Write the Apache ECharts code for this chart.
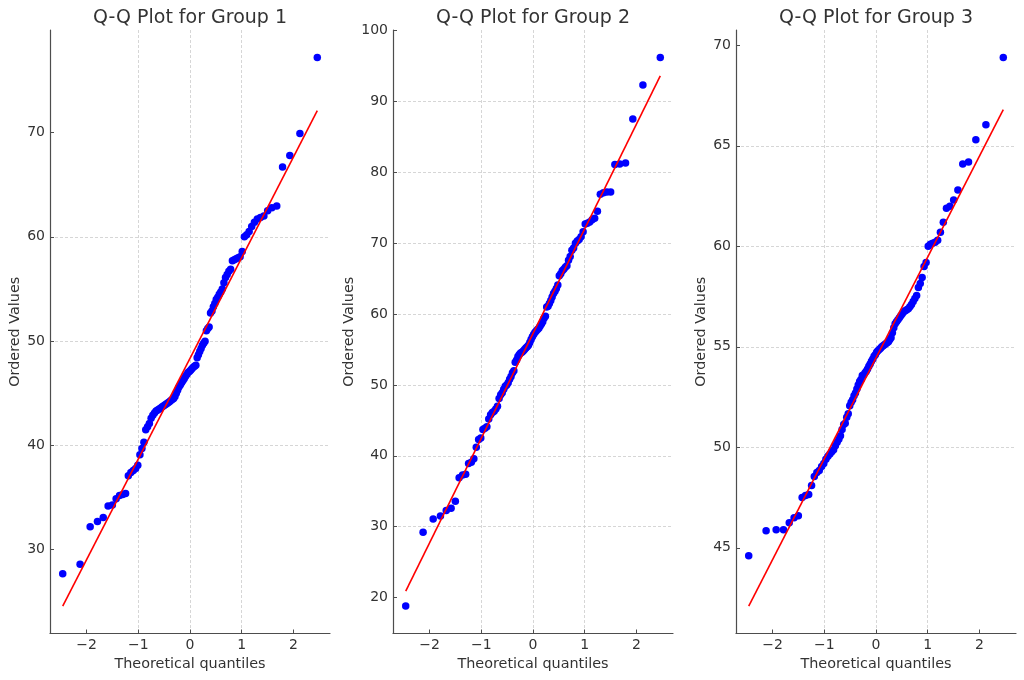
<!DOCTYPE html>
<html>
<head>
<meta charset="utf-8">
<script src="https://cdn.jsdelivr.net/npm/echarts@6/dist/echarts.min.js"></script>
<style>
html,body{margin:0;padding:0;background:#fff;}
#chart{width:1024px;height:680px;}
</style>
</head>
<body>
<div id="chart"></div>
<script>
// ---------- data ----------
const panelTitles = ['Q-Q Plot for Group 1', 'Q-Q Plot for Group 2', 'Q-Q Plot for Group 3'];
const xAxisName = 'Theoretical quantiles';
const yAxisName = 'Ordered Values';

// theoretical normal quantiles for n = 100 (order statistic medians)
const theoreticalQuantiles = [
  -2.462, -2.126, -1.931, -1.790, -1.678, -1.584, -1.502, -1.429, -1.363, -1.302,
  -1.246, -1.193, -1.144, -1.097, -1.052, -1.010, -0.969, -0.930, -0.892, -0.856,
  -0.820, -0.786, -0.752, -0.719, -0.687, -0.656, -0.625, -0.595, -0.566, -0.537,
  -0.508, -0.480, -0.452, -0.425, -0.397, -0.370, -0.344, -0.317, -0.291, -0.265,
  -0.240, -0.214, -0.188, -0.163, -0.138, -0.113, -0.088, -0.062, -0.037, -0.012,
   0.012,  0.037,  0.062,  0.088,  0.113,  0.138,  0.163,  0.188,  0.214,  0.240,
   0.265,  0.291,  0.317,  0.344,  0.370,  0.397,  0.425,  0.452,  0.480,  0.508,
   0.537,  0.566,  0.595,  0.625,  0.656,  0.687,  0.719,  0.752,  0.786,  0.820,
   0.856,  0.892,  0.930,  0.969,  1.010,  1.052,  1.097,  1.144,  1.193,  1.246,
   1.302,  1.363,  1.429,  1.502,  1.584,  1.678,  1.790,  1.931,  2.126,  2.462
];

const group1Values = [
  27.7, 28.6, 32.2, 32.7, 33.1, 34.2, 34.3, 34.9, 35.2, 35.3,
  35.4, 37.1, 37.4, 37.6, 37.8, 38.1, 39.1, 39.7, 40.3, 41.5,
  41.8, 42.1, 42.6, 42.9, 43.1, 43.3, 43.4, 43.5, 43.6, 43.7,
  43.8, 43.9, 44.0, 44.1, 44.2, 44.3, 44.4, 44.5, 44.7, 45.0,
  45.3, 45.6, 45.8, 46.0, 46.2, 46.4, 46.6, 46.8, 47.0, 47.1,
  47.2, 47.35, 47.5, 47.6, 47.7, 48.4, 48.7, 49.0, 49.3, 49.6,
  49.8, 50.0, 51.0, 51.2, 51.35, 52.7, 52.9, 53.3, 53.6, 54.0,
  54.2, 54.5, 54.7, 55.0, 55.6, 56.1, 56.4, 56.7, 56.9, 57.7,
  57.8, 57.9, 58.0, 58.1, 58.6, 60.0, 60.2, 60.5, 61.0, 61.4,
  61.7, 61.85, 62.0, 62.5, 62.8, 62.95, 66.7, 67.8, 69.9, 77.2
];
const group2Values = [
  18.8, 29.2, 31.1, 31.5, 32.3, 32.6, 33.6, 36.9, 37.3, 37.4,
  38.9, 39.1, 39.6, 41.2, 42.3, 42.5, 43.7, 43.9, 44.1, 45.2,
  45.8, 46.1, 46.3, 46.6, 47.0, 48.1, 48.6, 48.9, 49.4, 49.8,
  50.0, 50.3, 50.8, 51.2, 51.7, 52.0, 53.2, 53.5, 54.0, 54.3,
  54.5, 54.6, 54.8, 55.0, 55.2, 55.4, 55.6, 56.0, 56.4, 56.8,
  57.1, 57.4, 57.6, 57.8, 58.0, 58.3, 58.6, 58.9, 59.4, 59.7,
  61.0, 61.1, 61.5, 61.9, 62.4, 62.9, 63.2, 63.6, 64.1, 65.4,
  65.7, 66.1, 66.3, 66.6, 66.8, 67.6, 68.1, 69.0, 69.3, 70.0,
  70.3, 70.5, 70.9, 71.6, 72.7, 72.8, 73.0, 73.3, 73.5, 74.5,
  76.9, 77.1, 77.2, 77.2, 81.1, 81.15, 81.3, 87.5, 92.3, 96.2
];
const group3Values = [
  44.6, 45.85, 45.9, 45.9, 46.25, 46.5, 46.6, 47.5, 47.6, 47.65,
  48.1, 48.55, 48.75, 48.85, 49.05, 49.2, 49.4, 49.55, 49.67, 49.78,
  49.88, 50.08, 50.25, 50.4, 50.58, 50.88, 51.13, 51.2, 51.5, 51.67,
  52.07, 52.24, 52.37, 52.57, 52.7, 52.9, 53.1, 53.28, 53.37, 53.57,
  53.6, 53.7, 53.78, 53.9, 54.03, 54.15, 54.28, 54.4, 54.53, 54.6,
  54.73, 54.8, 54.87, 54.93, 55.0, 55.05, 55.1, 55.15, 55.2, 55.25,
  55.35, 55.45, 55.7, 55.95, 56.15, 56.25, 56.35, 56.45, 56.55, 56.65,
  56.75, 56.8, 56.85, 56.9, 57.0, 57.1, 57.25, 57.4, 57.55, 57.95,
  58.15, 58.45, 59.0, 59.2, 60.0, 60.1, 60.15, 60.2, 60.3, 60.7,
  61.2, 61.9, 62.0, 62.3, 62.8, 64.1, 64.2, 65.3, 66.05, 69.4
];

// least-squares fit lines (end points at the extreme quantiles)
const fitLine1 = [[-2.462, 24.6], [2.462, 72.1]];
const fitLine2 = [[-2.462, 20.9], [2.462, 93.6]];
const fitLine3 = [[-2.462, 42.1], [2.462, 66.8]];

// tick labels
const xTickValues = [-2, -1, 0, 1, 2];
const yTickValues1 = [30, 40, 50, 60, 70];
const yTickValues2 = [20, 30, 40, 50, 60, 70, 80, 90, 100];
const yTickValues3 = [45, 50, 55, 60, 65, 70];

// ---------- chart ----------
const FONT = 'DejaVu Sans';
const AXIS_COLOR = '#4d4d4d';
const TEXT_COLOR = '#333333';

const panels = [
  { values: group1Values, fit: fitLine1, yTicks: yTickValues1, yMin: 21.97, yMax: 79.83, yStep: 10, left: 50, nameGap: 28 },
  { values: group2Values, fit: fitLine2, yTicks: yTickValues2, yMin: 14.93, yMax: 100.07, yStep: 10, left: 393, nameGap: 37 },
  { values: group3Values, fit: fitLine3, yTicks: yTickValues3, yMin: 40.735, yMax: 70.765, yStep: 5, left: 736, nameGap: 28 }
];
const PLOT_W = 280;

const minusFmt = v => (v < 0 ? '\u2212' + Math.abs(v) : String(v));

const splitLineStyle = { show: true, showMinLine: false, showMaxLine: false,
  lineStyle: { color: '#cccccc', width: 0.8, type: [3, 2] } };

const option = {
  backgroundColor: '#ffffff',
  animation: false,
  textStyle: { fontFamily: FONT },
  title: panels.map((p, i) => ({
    text: panelTitles[i],
    left: p.left + PLOT_W / 2,
    top: 9,
    padding: 0,
    textAlign: 'center',
    textStyle: { fontFamily: FONT, fontSize: 19, fontWeight: 'normal', color: TEXT_COLOR }
  })),
  grid: panels.map(p => ({ left: p.left, width: PLOT_W, top: 30, bottom: 46.5, containLabel: false })),
  xAxis: panels.map((p, i) => ({
    type: 'value', gridIndex: i,
    min: -2.708, max: 2.708, minInterval: 1, maxInterval: 1,
    name: xAxisName, nameLocation: 'middle', nameGap: 21,
    nameTextStyle: { fontFamily: FONT, fontSize: 14.4, color: TEXT_COLOR },
    axisLine: { show: true, onZero: false, lineStyle: { color: AXIS_COLOR, width: 1.2 } },
    axisTick: { show: true, inside: true, length: 4, customValues: xTickValues, lineStyle: { color: AXIS_COLOR, width: 1 } },
    axisLabel: { customValues: xTickValues, formatter: minusFmt, fontFamily: FONT, fontSize: 14, color: TEXT_COLOR, margin: 5 },
    splitLine: splitLineStyle
  })),
  yAxis: panels.map((p, i) => ({
    type: 'value', gridIndex: i,
    min: p.yMin, max: p.yMax, minInterval: p.yStep, maxInterval: p.yStep,
    name: yAxisName, nameLocation: 'middle', nameGap: p.nameGap, nameRotate: 90,
    nameTextStyle: { fontFamily: FONT, fontSize: 14.4, color: TEXT_COLOR },
    axisLine: { show: true, onZero: false, lineStyle: { color: AXIS_COLOR, width: 1.2 } },
    axisTick: { show: true, inside: true, length: 4, customValues: p.yTicks, lineStyle: { color: AXIS_COLOR, width: 1 } },
    axisLabel: { customValues: p.yTicks, fontFamily: FONT, fontSize: 14, color: TEXT_COLOR, margin: 5 },
    splitLine: splitLineStyle
  })),
  series: []
};

panels.forEach((p, i) => {
  option.series.push({
    type: 'scatter', xAxisIndex: i, yAxisIndex: i,
    symbol: 'circle', symbolSize: 7.5,
    itemStyle: { color: '#0000ff', opacity: 1 },
    data: theoreticalQuantiles.map((q, k) => [q, p.values[k]]),
    silent: true, z: 2
  });
});
panels.forEach((p, i) => {
  option.series.push({
    type: 'line', xAxisIndex: i, yAxisIndex: i,
    data: p.fit, showSymbol: false, symbol: 'none',
    lineStyle: { color: '#ff0000', width: 1.6 },
    silent: true, z: 3
  });
});

const chart = echarts.init(document.getElementById('chart'), null, { renderer: 'canvas' });
chart.setOption(option);
</script>
</body>
</html>
